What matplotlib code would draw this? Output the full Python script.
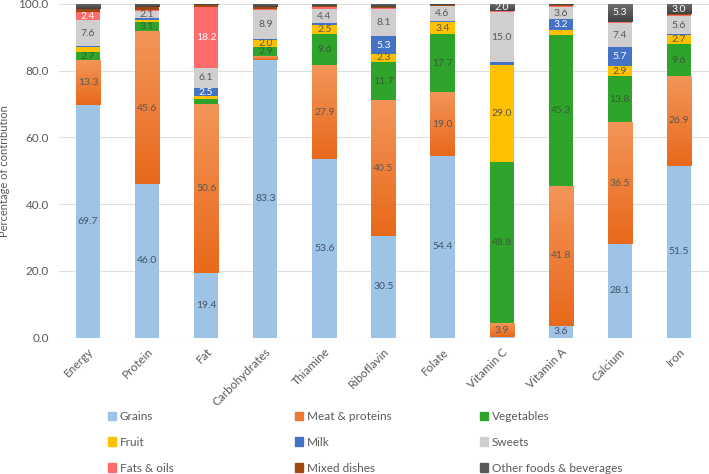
import numpy as np
import matplotlib
matplotlib.use("Agg")
import matplotlib.pyplot as plt
from matplotlib.patches import Patch
from matplotlib.colors import LinearSegmentedColormap

plt.rcParams["font.family"] = ["Lato", "DejaVu Sans"]

nutrients = ["Energy", "Protein", "Fat", "Carbohydrates", "Thiamine", "Riboflavin",
             "Folate", "Vitamin C", "Vitamin A", "Calcium", "Iron"]

groups = ["Grains", "Meat & proteins", "Vegetables", "Fruit", "Milk", "Sweets",
          "Fats & oils", "Mixed dishes", "Other foods & beverages"]

# percentage contribution per food group (order follows nutrients)
grains     = [69.7, 46.0, 19.4, 83.3, 53.6, 30.5, 54.4, 0.1, 3.6, 28.1, 51.5]
meat       = [13.3, 45.6, 50.6, 1.0, 27.9, 40.5, 19.0, 3.9, 41.8, 36.5, 26.9]
vegetables = [2.7, 3.1, 1.4, 2.9, 9.6, 11.7, 17.7, 48.8, 45.3, 13.8, 9.6]
fruit      = [1.3, 0.4, 0.9, 2.0, 2.5, 2.3, 3.4, 29.0, 1.6, 2.9, 2.7]
milk       = [0.5, 0.7, 2.5, 0.2, 0.6, 5.3, 0.3, 0.8, 3.2, 5.7, 0.2]
sweets     = [7.6, 2.1, 6.1, 8.9, 4.4, 8.1, 4.6, 15.0, 3.6, 7.4, 5.6]
fats_oils  = [2.4, 0.3, 18.2, 0.2, 0.4, 0.4, 0.1, 0.2, 0.2, 0.1, 0.3]
mixed      = [0.9, 0.8, 0.6, 0.5, 0.3, 0.3, 0.2, 0.2, 0.3, 0.2, 0.2]
other      = [1.6, 1.0, 0.3, 1.0, 0.7, 0.9, 0.4, 2.0, 0.4, 5.3, 3.0]

series = [grains, meat, vegetables, fruit, milk, sweets, fats_oils, mixed, other]
colors = ["#9DC3E6", "#EE7A2E", "#2EA52A", "#FFC000", "#4472C4", "#D0CECE",
          "#FF6B6B", "#A0480E", "#595959"]
text_colors = ["#44546A", "#595959", "#3A5A3A", "#595959", "white", "#595959",
               "white", "white", "white"]
gradients = {1: ("#F39558", "#E8691B"), 8: ("#6E6E6E", "#404040")}

fig = plt.figure(figsize=(7.09, 4.74), dpi=100)
ax = fig.add_axes([58.5 / 709, 1 - 337.7 / 474, 650 / 709, 333.7 / 474])

x = np.arange(len(nutrients))
width = 0.41
bottom = np.zeros(len(nutrients))
for i, (name, vals) in enumerate(zip(groups, series)):
    vals = np.array(vals)
    bars = ax.bar(x, vals, width, bottom=bottom, color=colors[i], label=name,
                  zorder=2, linewidth=0)
    if i in gradients:
        cmap = LinearSegmentedColormap.from_list("g", gradients[i])
        for b in bars:
            x0, y0 = b.get_x(), b.get_y()
            w, h = b.get_width(), b.get_height()
            if h <= 0:
                continue
            grad = np.linspace(0, 1, 64).reshape(-1, 1)
            ax.imshow(grad, cmap=cmap, aspect="auto", origin="upper",
                      extent=(x0, x0 + w, y0, y0 + h), zorder=2.5)
    for xi, v, b0 in zip(x, vals, bottom):
        if v >= 1.95:
            ax.text(xi, b0 + v / 2, f"{v:.1f}", ha="center", va="center",
                    fontsize=7.5, color=text_colors[i], zorder=4)
    bottom += vals

ax.set_xlim(-0.5, len(nutrients) - 0.5)
ax.set_ylim(0, 100)
ax.set_yticks(np.arange(0, 101, 20))
ax.set_yticklabels([f"{v:.1f}" for v in np.arange(0, 101, 20)])
ax.set_xticks(x)
ax.set_xticklabels(nutrients, rotation=45, ha="right", rotation_mode="anchor")
ax.tick_params(axis="both", length=0, colors="#595959")
ax.tick_params(axis="x", pad=6, labelsize=8.5)
ax.tick_params(axis="y", pad=7, labelsize=8.5)
ax.grid(axis="y", color="#E0E0E0", linewidth=0.8, zorder=0)
for s in ax.spines.values():
    s.set_visible(False)
ax.set_ylabel("Percentage of contribution", fontsize=8, color="#595959", labelpad=6)

# legend: three columns laid out row-wise
col_x = [108, 295, 480]
for c in range(3):
    handles = [Patch(color=colors[r * 3 + c], label=groups[r * 3 + c]) for r in range(3)]
    fig.legend(handles=handles, loc="upper left",
               bbox_to_anchor=(col_x[c] / 709, 1 - 411 / 474),
               frameon=False, fontsize=8.5, handlelength=0.7, handleheight=0.7,
               handletextpad=0.3, labelspacing=1.25, borderpad=0, borderaxespad=0,
               labelcolor="#595959")

fig.savefig("out.png", dpi=100)
